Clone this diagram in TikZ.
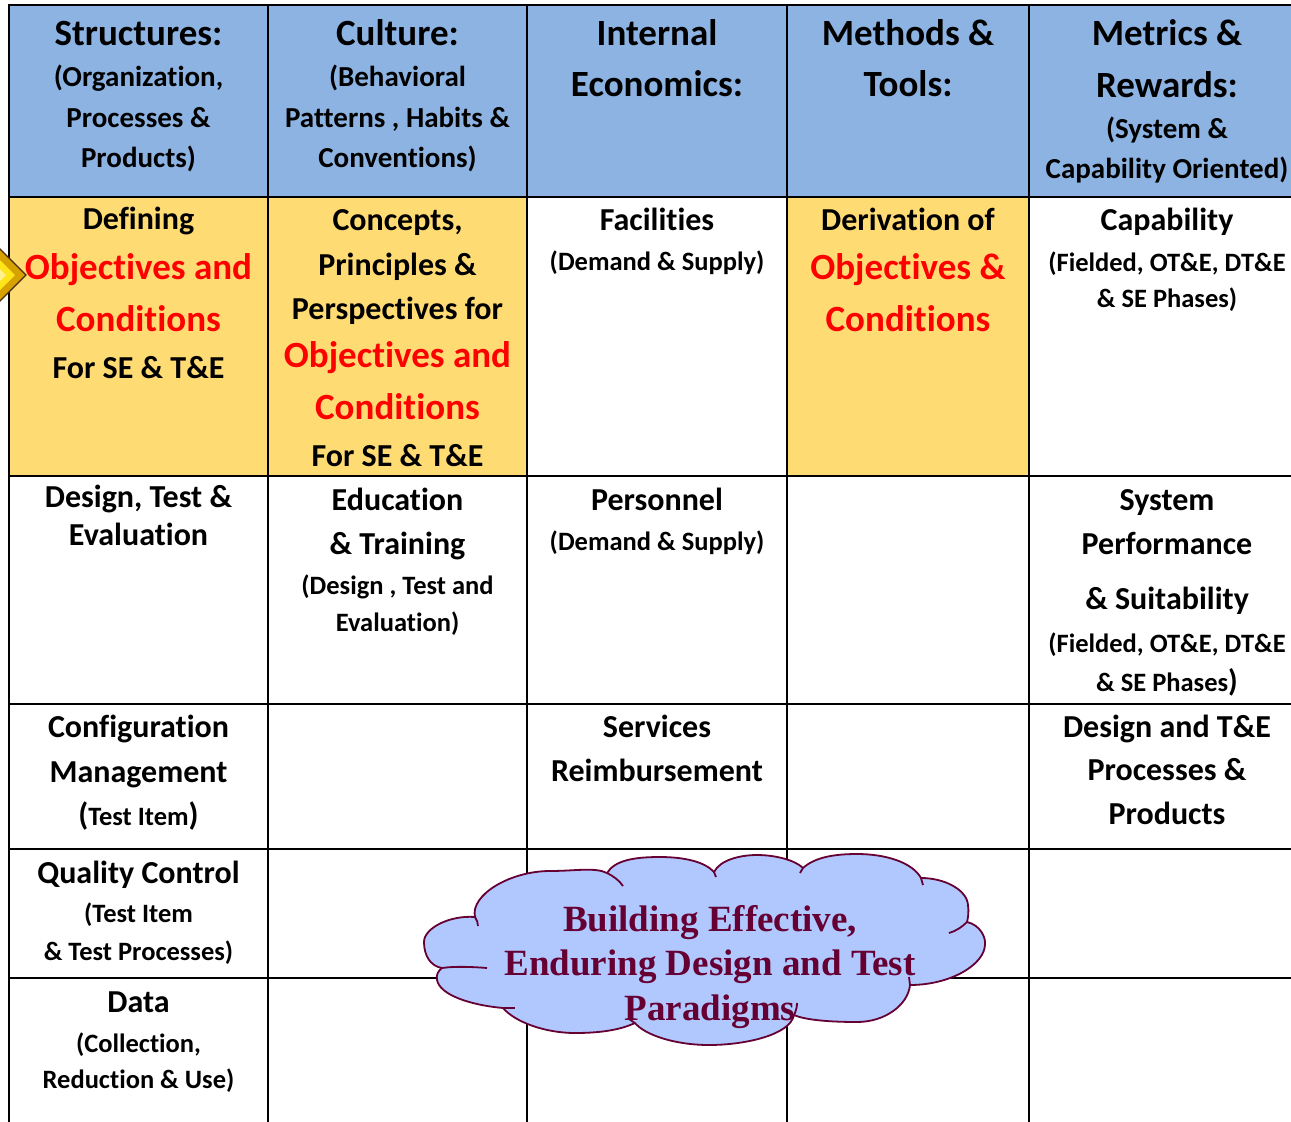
\documentclass[tikz,border=0pt]{standalone}
\usepackage{fontspec}
\setmainfont{Carlito}[Ligatures=NoCommon, Contextuals=NoAlternate]
\newfontfamily\cloudfont{Liberation Serif}
\definecolor{hdrblue}{HTML}{8DB3E2}
\definecolor{ylw}{HTML}{FFDB73}
\definecolor{objred}{HTML}{FF0000}
\definecolor{cloudfill}{HTML}{B1C8FF}
\definecolor{maroon}{HTML}{660033}
\definecolor{gold1}{HTML}{D6A200}
\definecolor{gold2}{HTML}{FFE419}
\definecolor{dbrown}{HTML}{4A2A10}
\tikzset{
  grid/.style={line width=2.9pt, line cap=rect, black},
  tx/.style={anchor=base, inner sep=0pt, outer sep=0pt},
  big/.style={tx, font=\fontsize{37}{40}\selectfont\bfseries},
  mid/.style={tx, font=\fontsize{32}{36}\selectfont\bfseries},
  hsub/.style={tx, font=\fontsize{29}{32}\selectfont\bfseries},
  sml/.style={tx, font=\fontsize{26.5}{30}\selectfont\bfseries},
  redt/.style={big, text=objred},
  cloudtxt/.style={tx, text=maroon, font=\fontsize{37}{40}\selectfont\cloudfont\bfseries},
  cloudline/.style={draw=maroon, line width=1.8pt, line join=round},
}
\begin{document}
\begin{tikzpicture}[x=1pt,y=-1pt]
\useasboundingbox (0,0) rectangle (1291,1122);
\begin{scope}
\clip (0,0) rectangle (1291,1122);
\fill[white] (0,0) rectangle (1291,1122);
% cell fills
\fill[hdrblue] (9,5) rectangle (1310,197);
\fill[ylw] (9,197) rectangle (527,476);
\fill[ylw] (787,197) rectangle (1029,476);
% grid
\foreach \y in {5,197,476,704,849,978} \draw[grid] (9,\y) -- (1320,\y);
\foreach \x in {9,268,527,787,1029} \draw[grid] (\x,5) -- (\x,1140);
% cloud
\draw[cloudline, fill=cloudfill]
  (442,968) .. controls (430,966) and (424,955) .. (424,942)
  .. controls (424,928) and (450,915) .. (475,917)
  .. controls (470,895) and (510,871) .. (550,871)
  .. controls (575,871) and (595,867) .. (607,873)
  .. controls (615,860) and (635,857) .. (660,857)
  .. controls (685,857) and (705,862) .. (714,872)
  .. controls (720,860) and (740,855) .. (757,855)
  .. controls (775,855) and (795,860) .. (803,868)
  .. controls (815,857) and (835,854) .. (857,854)
  .. controls (885,854) and (912,862) .. (921,878)
  .. controls (945,878) and (967,890) .. (968,905)
  .. controls (969,912) and (968,918) .. (967,922)
  .. controls (980,925) and (986,937) .. (985,945)
  .. controls (984,965) and (950,985) .. (910,985)
  .. controls (908,1005) and (885,1022) .. (857,1022)
  .. controls (830,1022) and (805,1020) .. (794,1015)
  .. controls (790,1035) and (745,1045) .. (709,1045)
  .. controls (675,1045) and (645,1035) .. (635,1023)
  .. controls (620,1030) and (600,1033) .. (575,1033)
  .. controls (545,1033) and (515,1022) .. (503,1008)
  .. controls (470,1005) and (440,995) .. (437,980)
  .. controls (436,975) and (438,971) .. (442,968) -- cycle;
% inner arcs of the cloud
\draw[cloudline] (442,968) .. controls (455,966) and (475,967) .. (487,968);
\draw[cloudline] (475,917) .. controls (477,920) and (478,923) .. (478,926);
\draw[cloudline] (607,873) .. controls (613,876) and (619,880) .. (623,886);
\draw[cloudline] (714,872) -- (716,877);
\draw[cloudline] (803,868) -- (800,873);
\draw[cloudline] (921,878) -- (923,885);
\draw[cloudline] (967,922) .. controls (962,927) and (956,931) .. (949,933);
\draw[cloudline] (910,985) -- (909,977);
\draw[cloudline] (794,1015) .. controls (796,1011) and (797,1007) .. (797,1003);
\draw[cloudline] (635,1023) -- (629,1019);
\draw[cloudline] (503,1008) -- (515,1008);
% diamond marker at left
\draw[draw=dbrown, fill=gold1, line width=1.2pt] (26,275) -- (-2,247) -- (-30,275) -- (-2,303) -- cycle;
\fill[gold2] (15,275) -- (-2,258) -- (-19,275) -- (-2,292) -- cycle;
\fill[white, opacity=0.5] (6,275) -- (-2,267) -- (-10,275) -- (-2,283) -- cycle;
\end{scope}

% header row
\node[big]  (h1a) at (138.5,45)  {Structures:};
\node[hsub] (h1b) at (138.5,86)  {(Organization,};
\node[hsub] (h1c) at (138.5,127) {Processes \&};
\node[hsub] (h1d) at (138.5,167) {Products)};
\node[big]  (h2a) at (397.5,45)  {Culture:};
\node[hsub] (h2b) at (397.5,86)  {(Behavioral};
\node[hsub] (h2c) at (397.5,127) {Patterns , Habits \&};
\node[hsub] (h2d) at (397.5,167) {Conventions)};
\node[big]  (h3a) at (657,45)  {Internal};
\node[big]  (h3b) at (657,96)  {Economics:};
\node[big]  (h4a) at (908,45)  {Methods \&};
\node[big]  (h4b) at (908,96)  {Tools:};
\node[big]  (h5a) at (1167,45)  {Metrics \&};
\node[big]  (h5b) at (1167,97)  {Rewards:};
\node[hsub] (h5c) at (1167,138) {(System \&};
\node[hsub] (h5d) at (1167,178) {Capability Oriented)};

% row 2
\node[mid]  (r2c1a) at (138.5,229) {Defining};
\node[redt] (r2c1b) at (138.5,279) {Objectives and};
\node[redt] (r2c1c) at (138.5,331) {Conditions};
\node[mid]  (r2c1d) at (138.5,378) {For SE \& T\&E};
\node[mid]  (r2c2a) at (397.5,230) {Concepts,};
\node[mid]  (r2c2b) at (397.5,275) {Principles \&};
\node[mid]  (r2c2c) at (397.5,319) {Perspectives for};
\node[redt] (r2c2d) at (397.5,367) {Objectives and};
\node[redt] (r2c2e) at (397.5,419) {Conditions};
\node[mid]  (r2c2f) at (397.5,466) {For SE \& T\&E};
\node[mid]  (r2c3a) at (657,230) {Facilities};
\node[sml]  (r2c3b) at (657,270) {(Demand \& Supply)};
\node[mid]  (r2c4a) at (908,230) {Derivation of};
\node[redt] (r2c4b) at (908,279) {Objectives \&};
\node[redt] (r2c4c) at (908,331) {Conditions};
\node[mid]  (r2c5a) at (1167,230) {Capability};
\node[sml]  (r2c5b) at (1167,271) {(Fielded, OT\&E, DT\&E};
\node[sml]  (r2c5c) at (1167,307) {\& SE Phases)};

% row 3
\node[mid]  (r3c1a) at (138.5,507) {Design, Test \&};
\node[mid]  (r3c1b) at (138.5,545) {Evaluation};
\node[mid]  (r3c2a) at (397.5,510) {Education};
\node[mid]  (r3c2b) at (397.5,554) {\& Training};
\node[sml]  (r3c2c) at (397.5,594) {(Design , Test and};
\node[sml]  (r3c2d) at (397.5,631) {Evaluation)};
\node[mid]  (r3c3a) at (657,510) {Personnel};
\node[sml]  (r3c3b) at (657,550) {(Demand \& Supply)};
\node[mid]  (r3c5a) at (1167,510) {System};
\node[mid]  (r3c5b) at (1167,554) {Performance};
\node[mid]  (r3c5c) at (1167,609) {\& Suitability};
\node[sml]  (r3c5d) at (1167,652) {(Fielded, OT\&E, DT\&E};
\node[sml]  (r3c5e) at (1167,691) {\& SE Phases{\fontsize{31}{31}\selectfont)}};

% row 4
\node[mid]  (r4c1a) at (138.5,737) {Configuration};
\node[mid]  (r4c1b) at (138.5,782) {Management};
\node[sml]  (r4c1c) at (138.5,825) {{\fontsize{32}{32}\selectfont(}Test Item{\fontsize{32}{32}\selectfont)}};
\node[mid]  (r4c3a) at (657,737) {Services};
\node[mid]  (r4c3b) at (657,781) {Reimbursement};
\node[mid]  (r4c5a) at (1167,737) {Design and T\&E};
\node[mid]  (r4c5b) at (1167,780) {Processes \&};
\node[mid]  (r4c5c) at (1167,824) {Products};

% row 5 and 6
\node[mid]  (r5c1a) at (138.5,883) {Quality Control};
\node[sml]  (r5c1b) at (138.5,922) {(Test Item};
\node[sml]  (r5c1c) at (138.5,960) {\& Test Processes)};
\node[mid]  (r6c1a) at (138.5,1012) {Data};
\node[sml]  (r6c1b) at (138.5,1052) {(Collection,};
\node[sml]  (r6c1c) at (138.5,1088) {Reduction \& Use)};

% cloud text
\node[cloudtxt] (cloud1) at (710,931)  {Building Effective,};
\node[cloudtxt] (cloud2) at (710,975)  {Enduring Design and Test};
\node[cloudtxt] (cloud3) at (710,1020) {Paradigms};
\end{tikzpicture}
\end{document}
